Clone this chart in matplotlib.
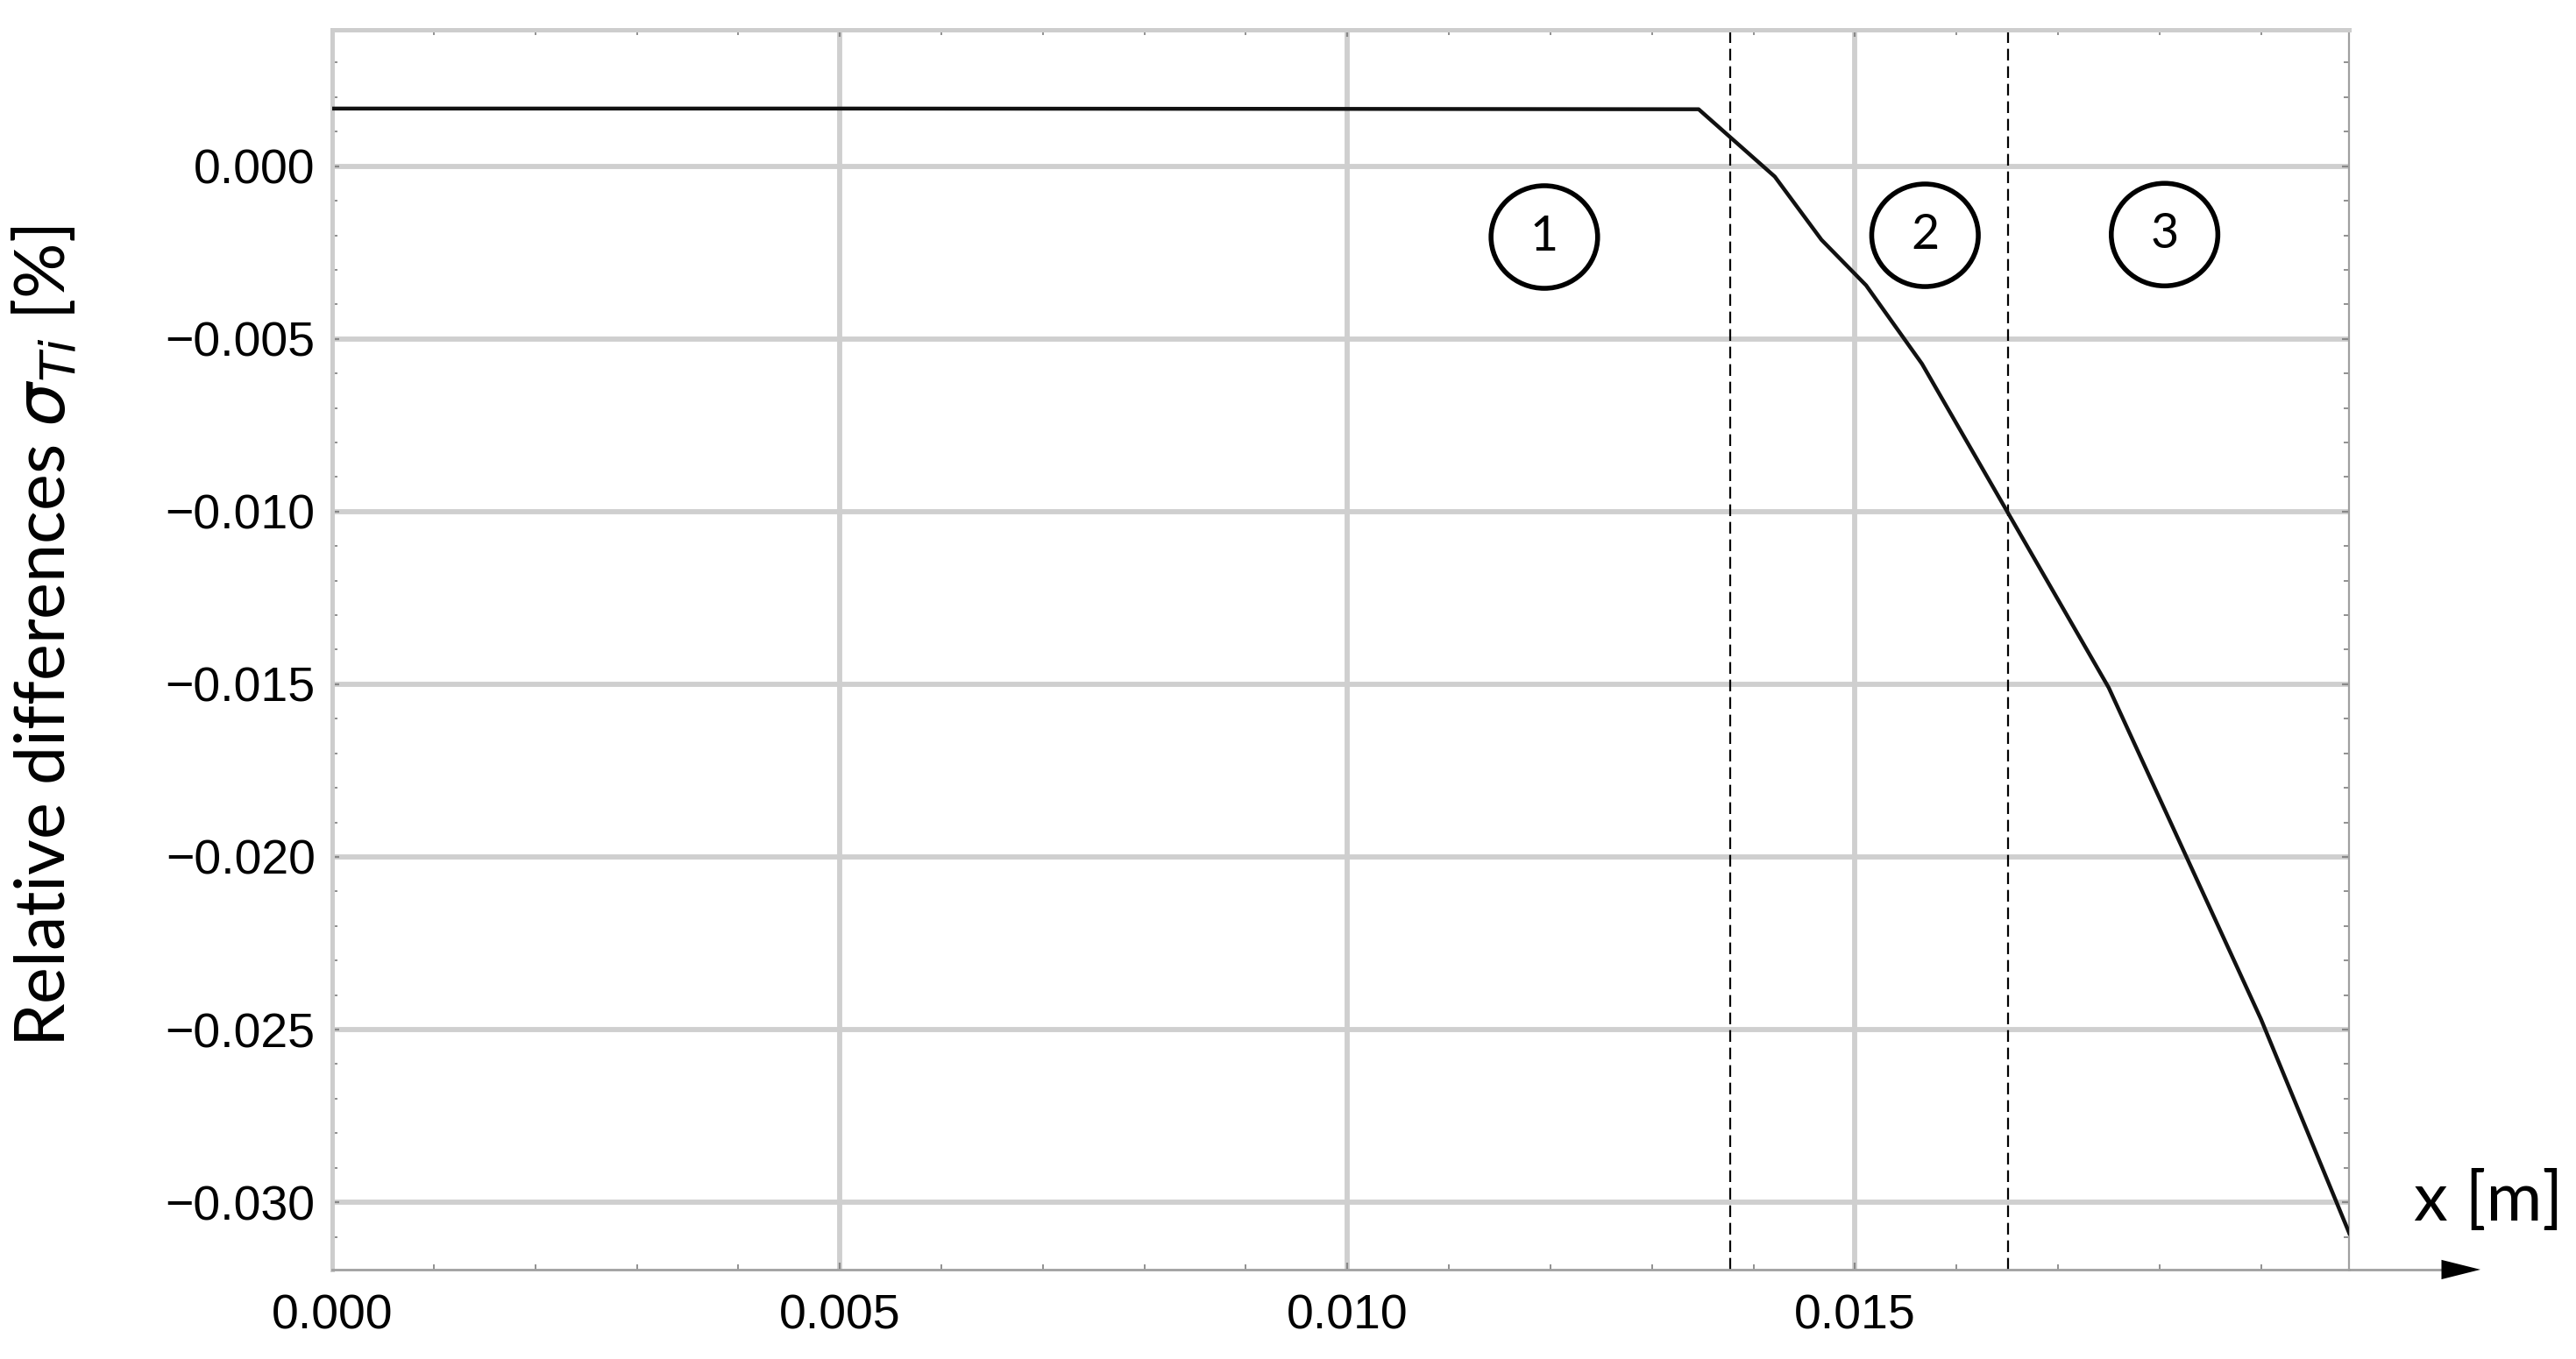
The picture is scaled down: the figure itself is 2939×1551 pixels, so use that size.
import matplotlib
matplotlib.use('Agg')
import matplotlib.pyplot as plt
from matplotlib.patches import Ellipse
from matplotlib.ticker import MultipleLocator, FuncFormatter

# curve (x in m, relative difference in %)
x_vals = [0.0, 0.005, 0.010, 0.01346, 0.01421, 0.01467, 0.01511, 0.01566, 0.0165, 0.0175, 0.0190, 0.01987]
y_vals = [0.00167, 0.00167, 0.00166, 0.00165, -0.0003, -0.00213, -0.00345, -0.00572, -0.0100, -0.0151, -0.0247, -0.0309]

# zone borders and zone labels
zone_borders = [0.01377, 0.01651]
zone_names = ['1', '2', '3']
zone_x = [0.01194, 0.01569, 0.01805]
zone_y = [-0.00205, -0.00200, -0.00198]

x_ticks = [0.0, 0.005, 0.010, 0.015]
y_ticks = [0.0, -0.005, -0.010, -0.015, -0.020, -0.025, -0.030]

plt.rcParams['font.family'] = ['Liberation Sans', 'DejaVu Sans']


def fmt(v, pos):
    s = '%.3f' % v
    if s.startswith('-'):
        s = '\u2212' + s[1:]
    if s == '\u22120.000':
        s = '0.000'
    return s


fig = plt.figure(figsize=(29.39, 15.51), dpi=100)
ax = fig.add_axes([0.129, 0.0658, 0.783, 0.912])

ax.set_xlim(0, 0.01987)
ax.set_ylim(-0.03195, 0.00394)

ax.set_xticks(x_ticks)
ax.set_yticks(y_ticks)
ax.xaxis.set_minor_locator(MultipleLocator(0.001))
ax.yaxis.set_minor_locator(MultipleLocator(0.001))
ax.xaxis.set_major_formatter(FuncFormatter(fmt))
ax.yaxis.set_major_formatter(FuncFormatter(fmt))

ax.grid(True, which='major', color='#cfcfcf', lw=4.2, zorder=0)

ax.tick_params(which='both', direction='in', top=True, right=True,
               color='#888888', labelsize=40)
ax.tick_params(which='major', length=6, width=1.6)
ax.tick_params(which='minor', length=4, width=1.3)
ax.tick_params(axis='x', pad=20)
ax.tick_params(axis='y', pad=14)

for side in ['left', 'top']:
    ax.spines[side].set_color('#cdcdcd')
    ax.spines[side].set_linewidth(3.6)
ax.spines['bottom'].set_color('#a0a0a0')
ax.spines['bottom'].set_linewidth(2.0)
ax.spines['right'].set_color('#a0a0a0')
ax.spines['right'].set_linewidth(1.6)

# the curve
ax.plot(x_vals, y_vals, color='#111111', lw=3.2, zorder=3)

# dashed zone borders
for xb in zone_borders:
    ax.axvline(xb, color='black', lw=1.6, ls=(0, (6, 3)), zorder=2)

# circled zone numbers
for name, zx, zy in zip(zone_names, zone_x, zone_y):
    ax.add_patch(Ellipse((zx, zy), 0.00105, 0.00297, fill=False,
                         ec='black', lw=4.0, zorder=4))
    ax.text(zx, zy, name, ha='center', va='center', fontsize=40,
            family=['Lato', 'DejaVu Sans'], zorder=5)

# x axis arrow past the frame
ax.plot([1.0, 1.05], [0, 0], transform=ax.transAxes, color='#a0a0a0',
        lw=2.0, clip_on=False)
ax.annotate('', xy=(1.065, 0), xytext=(1.04, 0), xycoords='axes fraction',
            arrowprops=dict(arrowstyle='-|>,head_length=1.6,head_width=0.4',
                            mutation_scale=20, color='black', lw=0,
                            shrinkA=0, shrinkB=0))

ax.text(1.069, 0.055, 'x [m]', transform=ax.transAxes, ha='center',
        va='center', fontsize=56, family=['Lato', 'DejaVu Sans'])

ax.set_ylabel(r'Relative differences $\sigma_{Ti}$ [%]', fontsize=57,
              family=['Lato', 'DejaVu Sans'])
ax.yaxis.set_label_coords(-0.1256, 0.511)

fig.savefig('out.png', dpi=100)
